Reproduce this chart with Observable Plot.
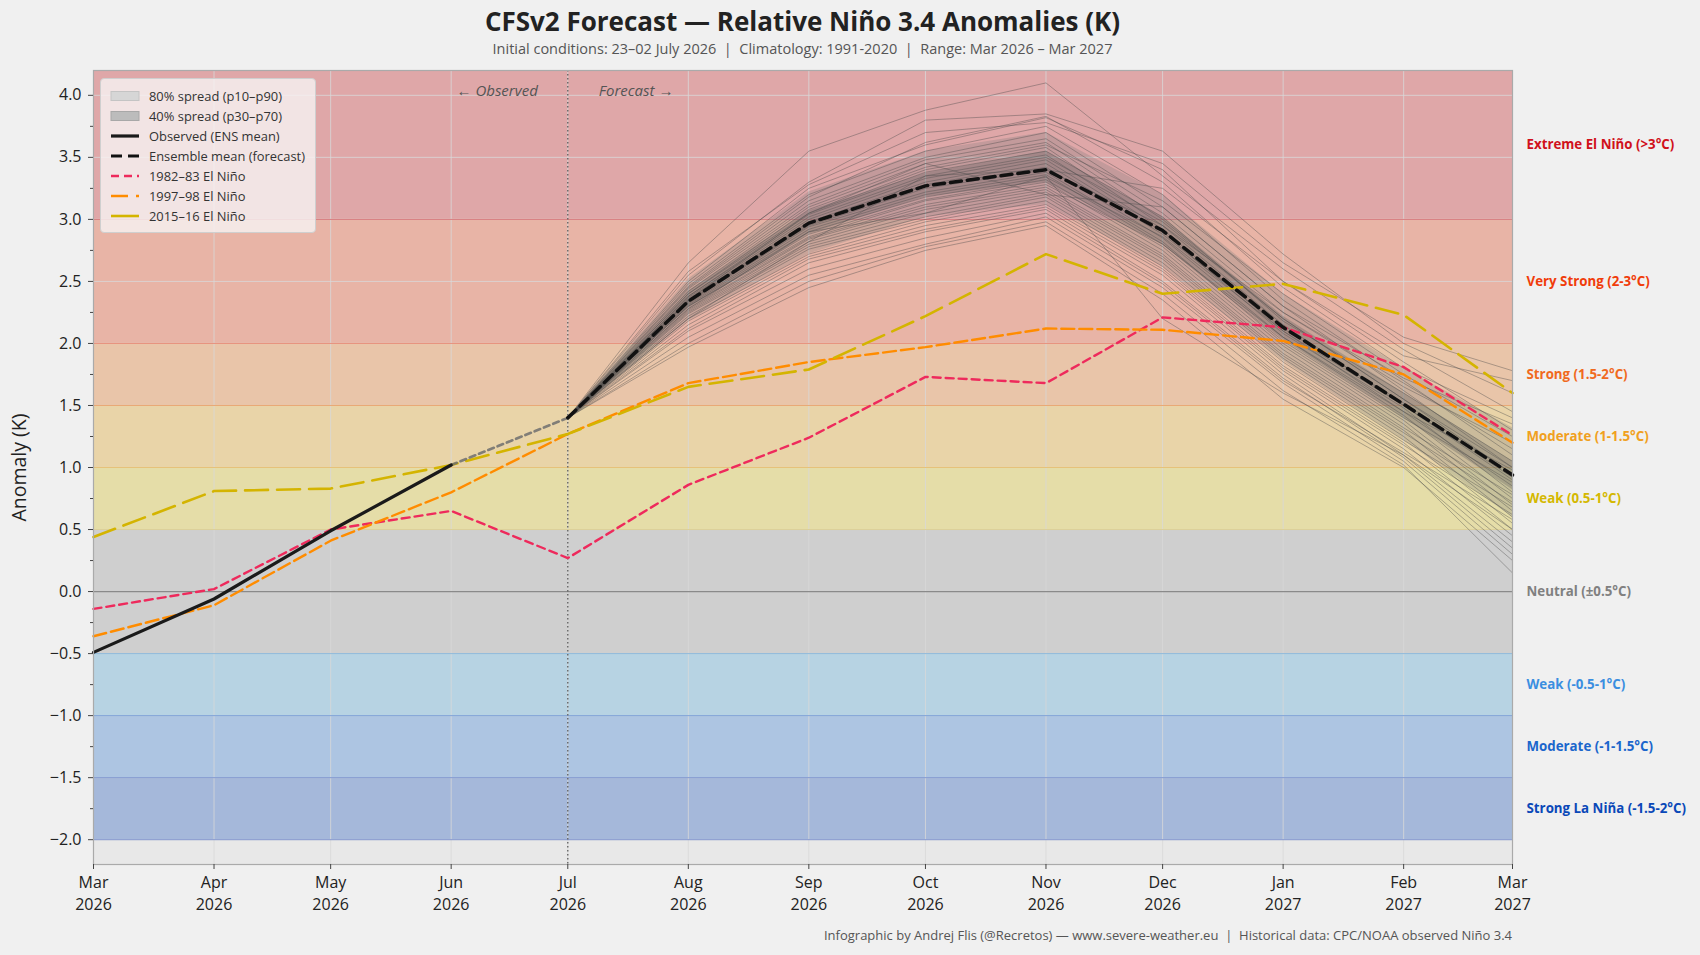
<!DOCTYPE html>
<html><head><meta charset="utf-8">
<script src="https://cdn.jsdelivr.net/npm/d3@7"></script>
<script src="https://cdn.jsdelivr.net/npm/@observablehq/plot@0.6"></script>
<style>
body{margin:0;background:#f0f0f0;font-family:"Open Sans",sans-serif;}
#wrap{position:relative;width:1700px;height:955px;overflow:hidden;}
#title{position:absolute;left:93px;width:1419px;top:5px;text-align:center;font-weight:700;font-size:26px;line-height:32px;color:#222;}
#subtitle{position:absolute;left:93px;width:1419px;top:39px;text-align:center;font-size:14.5px;line-height:19px;color:#555;white-space:pre;}
#chart{position:absolute;left:0;top:60px;}
#caption{position:absolute;right:188px;top:926px;font-size:13px;line-height:18px;color:#555;white-space:pre;}
#legend{position:absolute;left:100px;top:78px;width:216px;height:155px;background:rgba(246,242,242,0.82);border:1px solid #cfcfcf;border-radius:4px;box-sizing:border-box;}
.row{position:absolute;left:9px;height:20px;display:flex;align-items:center;font-size:12.9px;color:#333;white-space:nowrap;}
.row svg{margin-right:9px;}
</style></head>
<body>
<div id="wrap">
  <div id="title">CFSv2 Forecast — Relative Niño 3.4 Anomalies (K)</div>
  <div id="subtitle">Initial conditions: 23–02 July 2026  |  Climatology: 1991-2020  |  Range: Mar 2026 – Mar 2027</div>
  <div id="chart"></div>
  <div id="legend"></div>
  <div id="caption">Infographic by Andrej Flis (@Recretos) — www.severe-weather.eu  |  Historical data: CPC/NOAA observed Niño 3.4</div>
</div>
<script>
// ---------- DATA ----------
const months = ["2026-03-01","2026-04-01","2026-05-01","2026-06-01","2026-07-01","2026-08-01","2026-09-01","2026-10-01","2026-11-01","2026-12-01","2027-01-01","2027-02-01","2027-03-01"];
const monthNames = ["Mar","Apr","May","Jun","Jul","Aug","Sep","Oct","Nov","Dec","Jan","Feb","Mar"];
const yTicks = [-2,-1.5,-1,-0.5,0,0.5,1,1.5,2,2.5,3,3.5,4];
const yMinorTicks = [-1.75,-1.25,-0.75,-0.25,0.25,0.75,1.25,1.75,2.25,2.75,3.25,3.75];

// observed Mar–Jun 2026
const observedMonths = months.slice(0,4);
const observed = [-0.49,-0.06,0.49,1.02];
// forecast months Jul 2026 – Mar 2027
const forecastMonths = months.slice(4);
const ensMean = [1.40,2.34,2.97,3.27,3.40,2.91,2.13,1.51,0.94];
const p10 = [1.40,2.18,2.72,3.02,3.12,2.62,1.86,1.22,0.60];
const p30 = [1.40,2.28,2.88,3.18,3.30,2.80,2.03,1.40,0.82];
const p70 = [1.40,2.42,3.07,3.37,3.55,3.02,2.22,1.60,1.05];
const p90 = [1.40,2.52,3.22,3.55,3.70,3.20,2.40,1.80,1.32];

// historical analogues Mar–Mar
const nino8283 = [-0.14,0.02,0.50,0.65,0.27,0.86,1.24,1.73,1.68,2.21,2.13,1.81,1.26];
const nino9798 = [-0.36,-0.11,0.41,0.80,1.27,1.68,1.85,1.97,2.12,2.11,2.02,1.75,1.20];
const nino1516 = [0.44,0.81,0.83,1.02,1.27,1.65,1.79,2.22,2.72,2.40,2.48,2.23,1.60];

// ensemble members (Jul start 1.40, then Aug..Mar)
const memberStart = 1.40;
const members = [
 [2.65,3.55,3.88,4.10,3.35,2.60,1.95,1.45],
 [2.55,3.30,3.80,3.85,3.55,2.72,2.00,1.60],
 [2.50,3.25,3.60,3.82,3.40,2.50,1.85,1.30],
 [2.48,3.20,3.55,3.75,3.20,2.35,1.70,1.10],
 [2.45,3.15,3.50,3.70,3.10,2.30,1.62,1.00],
 [2.44,3.12,3.48,3.65,3.05,2.25,1.65,1.20],
 [2.42,3.10,3.45,3.62,3.00,2.20,1.55,0.95],
 [2.40,3.08,3.42,3.60,3.15,2.40,1.75,1.25],
 [2.40,3.05,3.40,3.58,2.95,2.15,1.50,0.90],
 [2.38,3.04,3.38,3.55,3.02,2.18,1.60,1.05],
 [2.38,3.02,3.35,3.52,2.92,2.10,1.45,0.85],
 [2.37,3.00,3.33,3.50,2.98,2.20,1.55,1.00],
 [2.36,2.98,3.30,3.48,2.90,2.08,1.48,0.80],
 [2.35,2.97,3.28,3.45,2.88,2.12,1.52,0.95],
 [2.34,2.96,3.27,3.42,2.85,2.05,1.42,0.75],
 [2.34,2.95,3.25,3.40,2.95,2.25,1.68,1.15],
 [2.33,2.94,3.22,3.38,2.82,2.00,1.38,0.70],
 [2.32,2.92,3.20,3.36,2.80,2.02,1.40,0.88],
 [2.31,2.90,3.18,3.34,2.86,2.10,1.50,0.92],
 [2.30,2.88,3.16,3.32,2.78,1.98,1.35,0.65],
 [2.30,2.86,3.15,3.30,2.75,1.95,1.32,0.78],
 [2.28,2.85,3.12,3.28,2.80,2.05,1.45,0.98],
 [2.27,2.84,3.10,3.26,2.72,1.92,1.30,0.60],
 [2.26,2.82,3.08,3.24,2.70,1.90,1.28,0.72],
 [2.25,2.80,3.05,3.22,2.68,1.88,1.25,0.55],
 [2.24,2.78,3.02,3.20,2.65,1.85,1.22,0.68],
 [2.22,2.76,3.00,3.18,2.62,1.82,1.20,0.50],
 [2.20,2.72,2.98,3.15,2.60,1.80,1.18,0.62],
 [2.18,2.70,2.95,3.12,2.58,1.78,1.15,0.45],
 [2.15,2.68,2.92,3.10,2.55,1.75,1.10,0.40],
 [2.12,2.65,2.90,3.08,2.50,1.72,1.08,0.35],
 [2.10,2.60,2.85,3.05,2.48,1.70,1.12,0.58],
 [2.05,2.55,2.80,3.02,2.45,1.68,1.05,0.30],
 [2.00,2.50,2.78,2.98,2.40,1.62,1.02,0.15],
 [1.97,2.45,2.75,2.95,2.35,1.55,1.00,0.25],
 [2.58,3.28,3.70,3.78,3.45,2.65,2.05,1.78],
 [2.46,3.18,3.62,3.83,3.30,2.45,1.80,1.40],
 [2.20,2.82,3.35,3.40,3.25,2.50,1.90,1.70],
 [2.28,2.90,3.05,3.35,2.20,1.60,1.10,0.50],
 [2.35,3.05,3.45,3.20,3.10,2.30,1.72,1.35]
];

// ENSO categories
const bandLow  = [3,2,1.5,1,0.5,-0.5,-1,-1.5,-2];
const bandHigh = [4.2,3,2,1.5,1,0.5,-0.5,-1,-1.5];
const bandLabels = ["Extreme El Niño (>3°C)","Very Strong (2-3°C)","Strong (1.5-2°C)","Moderate (1-1.5°C)","Weak (0.5-1°C)","Neutral (±0.5°C)","Weak (-0.5-1°C)","Moderate (-1-1.5°C)","Strong La Niña (-1.5-2°C)"];
const boundaries = [3,2,1.5,1,0.5,0,-0.5,-1,-1.5,-2];

// ---------- STYLE ----------
const bandFills = ["#dfa7a8","#e8b4a6","#e9c5a9","#e9d4a8","#e5dda8","#cfcfcf","#b7d3e3","#adc5e2","#a5b8da"];
const labelColors = ["#d0111b","#f03c0a","#f06a1e","#f0a020","#d4b800","#808080","#3a8ee0","#1a66cc","#0a48b8"];
const boundaryColors = ["#d9787a","#e8907c","#eaa874","#e6c27a","#dcd098","#8a8a8a","#8fbadb","#7ea3d9","#7f98d2","#8196cf"];
const C82 = "#ee2a5c", C97 = "#ff8c00", C15 = "#d4b400";
const FONT = "'Open Sans', sans-serif";

// ---------- BUILD ----------
const D = s => new Date(s + "T00:00:00Z");
const monthDates = months.map(D);
const idx = d => monthDates.findIndex(m => +m === +d);
const fmtName = d => monthNames[idx(d)];
const fmtYear = d => String(d.getUTCFullYear());

const bands = bandLow.map((lo,i)=>({lo, hi: bandHigh[i], fill: bandFills[i], label: bandLabels[i], color: labelColors[i]}));
const bounds = boundaries.map((v,i)=>({v, c: boundaryColors[i]}));
const hist = months.map((m,i)=>({date: D(m), a: nino8283[i], b: nino9798[i], c: nino1516[i]}));
const obs = observedMonths.map((m,i)=>({date: D(m), v: observed[i]}));
const bridge = [{date: D(observedMonths[3]), v: observed[3]}, {date: D(forecastMonths[0]), v: ensMean[0]}];
const fc = forecastMonths.map((m,i)=>({date: D(m), mean: ensMean[i], p10: p10[i], p30: p30[i], p70: p70[i], p90: p90[i]}));
const mem = members.flatMap((vals,k)=>[{k, date: D(forecastMonths[0]), v: memberStart}, ...vals.map((v,i)=>({k, date: D(forecastMonths[i+1]), v}))]);
const x0 = D(months[0]), x1 = D(months[months.length-1]), jul = D(forecastMonths[0]);

const chart = Plot.plot({
  width: 1700, height: 860,
  marginTop: 10, marginBottom: 56, marginLeft: 93, marginRight: 188,
  style: {background: "transparent", fontFamily: FONT, color: "#222", overflow: "visible"},
  x: {type: "utc", domain: [x0, x1]},
  y: {domain: [-2.2, 4.2]},
  color: {type: "identity"},
  marks: [
    Plot.frame({fill: "#e8e8e8", stroke: null}),
    Plot.rect(bands, {y1: "lo", y2: "hi", fill: "fill"}),
    Plot.gridX(monthDates, {stroke: "#d8d8d8", strokeOpacity: 0.8, strokeWidth: 1}),
    Plot.gridY(yTicks, {stroke: "#d8d8d8", strokeOpacity: 0.8, strokeWidth: 1}),
    Plot.ruleY(bounds, {y: "v", stroke: "c", strokeWidth: d => d.v === 0 ? 1.2 : 1}),
    Plot.ruleX([jul], {stroke: "#555", strokeDasharray: "1.5,2.5", strokeWidth: 1.2}),
    Plot.areaY(fc, {x: "date", y1: "p10", y2: "p90", fill: "#7a7a7a", fillOpacity: 0.28}),
    Plot.areaY(fc, {x: "date", y1: "p30", y2: "p70", fill: "#5a5a5a", fillOpacity: 0.3}),
    Plot.line(mem, {x: "date", y: "v", z: "k", stroke: "#4a4a4a", strokeOpacity: 0.45, strokeWidth: 0.9}),
    Plot.line(hist, {x: "date", y: "a", stroke: C82, strokeWidth: 2.4, strokeDasharray: "8,5"}),
    Plot.line(hist, {x: "date", y: "b", stroke: C97, strokeWidth: 2.4, strokeDasharray: "13,5"}),
    Plot.line(hist, {x: "date", y: "c", stroke: C15, strokeWidth: 2.6, strokeDasharray: "23,9"}),
    Plot.line(bridge, {x: "date", y: "v", stroke: "#6e6e6e", strokeOpacity: 0.85, strokeWidth: 2.6, strokeDasharray: "6,4"}),
    Plot.line(obs, {x: "date", y: "v", stroke: "#1a1a1a", strokeWidth: 3.2}),
    Plot.line(fc, {x: "date", y: "mean", stroke: "#111", strokeWidth: 3.5, strokeDasharray: "11,6"}),
    Plot.text(["← Observed"], {x: jul, y: 4.03, dx: -30, textAnchor: "end", fontStyle: "italic", fontSize: 15, fill: "#555"}),
    Plot.text(["Forecast →"], {x: jul, y: 4.03, dx: 31, textAnchor: "start", fontStyle: "italic", fontSize: 15, fill: "#555"}),
    Plot.text(bands, {x: x1, y: d => (d.lo + d.hi) / 2, text: "label", fill: "color", dx: 14, textAnchor: "start", fontWeight: "bold", fontSize: 13.3}),
    Plot.frame({stroke: "#aaaaaa", strokeWidth: 1.2}),
    Plot.axisY(yTicks, {tickSize: 5, tickPadding: 7, fontSize: 16, tickFormat: d3.format(".1f"), label: null, stroke: "#444"}),
    Plot.axisY(yMinorTicks, {tickSize: 3, tickFormat: () => "", label: null, stroke: "#444"}),
    Plot.axisX(monthDates, {tickSize: 5, tickPadding: 7.5, fontSize: 16, tickFormat: fmtName, label: null, stroke: "#444"}),
    Plot.axisX(monthDates, {tickSize: 0, tickPadding: 34.5, fontSize: 16, tickFormat: fmtYear, label: null}),
    Plot.text(["Anomaly (K)"], {frameAnchor: "left", dx: -74, rotate: -90, textAnchor: "middle", fontSize: 19.5, fill: "#222"})
  ]
});
document.getElementById("chart").appendChild(chart);

// ---------- LEGEND ----------
const legendItems = [
  {label: "80% spread (p10–p90)", type: "area", fill: "#d6d6d6", stroke: "#c4c4c4"},
  {label: "40% spread (p30–p70)", type: "area", fill: "#bcbcbc", stroke: "#a8a8a8"},
  {label: "Observed (ENS mean)", type: "line", stroke: "#1a1a1a", w: 3.2, dash: null},
  {label: "Ensemble mean (forecast)", type: "line", stroke: "#111", w: 3.2, dash: "11,6"},
  {label: "1982–83 El Niño", type: "line", stroke: C82, w: 2.4, dash: "8,5"},
  {label: "1997–98 El Niño", type: "line", stroke: C97, w: 2.4, dash: "17,8"},
  {label: "2015–16 El Niño", type: "line", stroke: C15, w: 2.6, dash: "30,9"}
];
const leg = document.getElementById("legend");
legendItems.forEach((it, i) => {
  const row = document.createElement("div");
  row.className = "row";
  row.style.top = (7 + i * 20) + "px";
  const sw = it.type === "area"
    ? `<svg width="30" height="12"><rect x="1" y="1.5" width="28" height="9" fill="${it.fill}" stroke="${it.stroke}"/></svg>`
    : `<svg width="30" height="12"><line x1="1" x2="29" y1="6" y2="6" stroke="${it.stroke}" stroke-width="${it.w}" ${it.dash ? `stroke-dasharray="${it.dash}"` : ""}/></svg>`;
  row.innerHTML = sw + `<span>${it.label}</span>`;
  leg.appendChild(row);
});
</script>
</body></html>
